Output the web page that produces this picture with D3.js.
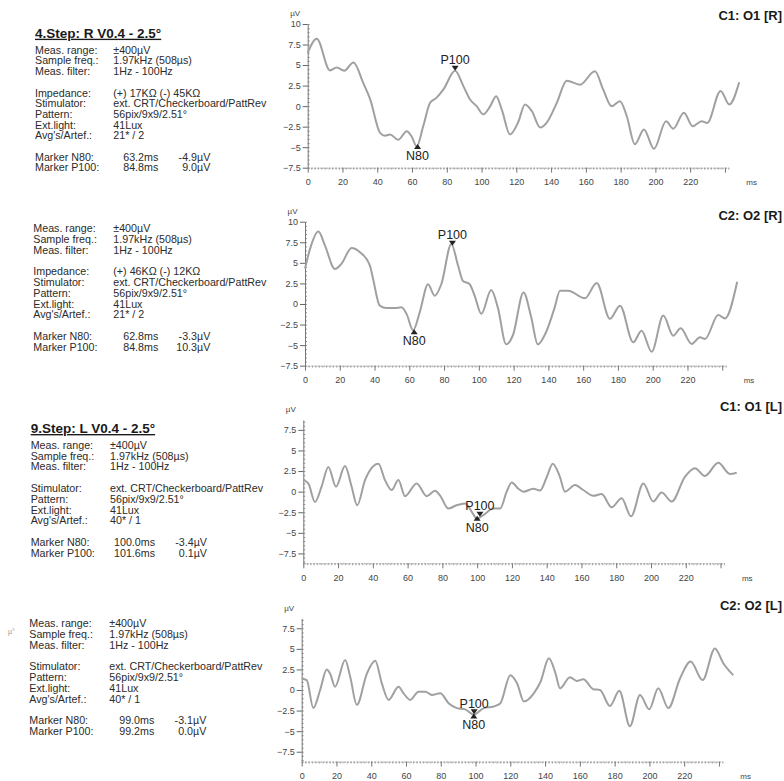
<!DOCTYPE html>
<html>
<head>
<meta charset="utf-8">
<script src="https://cdn.jsdelivr.net/npm/d3@7"></script>
<style>
  body { margin: 0; background: #fff; }
  svg { font-family: "Liberation Sans", Arial, sans-serif; }
</style>
</head>
<body>
<div id="chart"></div>
<script>
// ---- data ----
var channelTitles = ["C1: O1 [R]", "C2: O2 [R]", "C1: O1 [L]", "C2: O2 [L]"];
var stepTitles = ["4.Step: R V0.4 - 2.5°", "", "9.Step: L V0.4 - 2.5°", ""];

var timesO1R = [0, 5.2, 12.8, 16.7, 21, 26.3, 32, 36, 41.6, 44.5, 47.4, 52, 57, 59.8, 62.7, 66.5, 70.4, 74, 78, 84.8, 89.6, 93.4, 97.2, 101, 105, 108.4, 111.6, 116.4, 121, 125, 128.9, 133.7, 137.5, 143.3, 149, 156.6, 165.2, 170, 174.8, 179.6, 183.5, 188.2, 193.4, 199.2, 206.1, 210.3, 216.4, 221.4, 226.6, 229.8, 237.5, 242.5, 248.2];
var valuesO1R = [6.5, 8.2, 4.35, 4.7, 4.3, 5.3, 2.8, 0.8, -3.25, -3.6, -3.45, -4.1, -3.05, -3.7, -4.9, -2.4, 0.4, 1.0, 2.0, 4.3, 2.4, 0.8, 0, -1.0, 0, 1.2, -0.4, -3.45, -2.0, 0.2, -0.6, -2.6, -2.0, 0.4, 3.1, 2.6, 4.25, 2.0, 0, 0.6, -1.2, -4.65, -2.85, -5.2, -1.85, -2.75, -0.8, -2.45, -1.85, -2.05, 1.85, 0.2, 2.9];

var timesO2R = [0, 2.9, 7.7, 11.5, 17.2, 21, 26.8, 31.6, 37.3, 39.2, 43, 46.9, 51.7, 55.5, 58.4, 62.2, 66, 70.8, 74.6, 78.4, 84.2, 88, 90.9, 94.7, 97.6, 101.4, 107.1, 111, 115.7, 119.6, 125.7, 130, 133.9, 138.7, 143.5, 146.7, 151.4, 161, 167.8, 175.4, 181.2, 188.8, 193.6, 199.4, 206.1, 211.8, 216.1, 222.4, 227.2, 230.1, 237.7, 241.6, 248.6];
var valuesO2R = [4.3, 6.7, 8.8, 7.1, 4.25, 4.9, 6.8, 6.3, 4.7, 3.0, -0.2, -0.5, -0.5, -0.4, -1.2, -3.2, -1.0, 2.4, 1.0, 2.4, 7.3, 4.7, 2.8, 2.4, 1.0, -1.2, 1.7, -0.5, -4.9, -3.8, 1.4, -1.5, -4.9, -3.4, -0.5, 1.6, 1.6, 0.7, 2.55, -1.8, -0.2, -4.65, -3.25, -5.8, -1.4, -3.85, -2.95, -4.85, -4.05, -4.25, -1.35, -1.75, 2.7];

var timesO1L = [0, 2.9, 6.7, 10.5, 14.4, 18.8, 24, 27.8, 31, 35.5, 43.2, 47, 50.8, 54.7, 58.5, 65.2, 71, 75.8, 78.6, 83.4, 88.2, 93, 97.8, 99.7, 103.6, 109.3, 113.2, 117, 119.9, 123.7, 126.6, 132.3, 136.2, 140, 143.5, 147.6, 150.5, 156.3, 161, 166.8, 171.6, 177.4, 183.1, 188.5, 195.6, 201.3, 206.1, 211.9, 219.5, 225.3, 231, 238.7, 245.4, 249.3];
var valuesO1L = [1.4, 1.0, -1.25, 0.6, 3.0, 0.6, 3.1, 0.6, -1.65, 1.4, 3.4, 1.4, 0.2, 1.4, -0.55, 1.0, -0.55, 0.1, -0.45, -2.05, -1.65, -1.45, -2.75, -3.3, -2.85, -2.05, -2.05, 0, 1.1, 0.35, 0, 0.35, 0.15, 1.75, 3.4, 1.8, 0, 0.8, 0.2, -0.5, -0.3, -1.9, -0.8, -3.0, 1.0, -1.2, -0.1, -1.2, 1.8, 2.85, 1.9, 3.5, 2.15, 2.3];

var timesO2L = [0, 2.9, 6.7, 10.6, 14.4, 16.3, 19.2, 25, 27.9, 31.7, 37.5, 42.3, 46.1, 50, 55.7, 58.6, 62.4, 67.2, 71.1, 74.9, 79.7, 84.5, 89.3, 94.1, 99, 104.7, 110.5, 114.3, 120, 123.9, 127.8, 133.5, 137.4, 142.2, 146, 148.6, 154.3, 158.2, 162, 167.7, 171.6, 177.3, 182.7, 188.8, 194.6, 199.9, 205.1, 210.9, 217.6, 223.7, 230.6, 237.7, 242.5, 248.2];
var valuesO2L = [1.4, 1.2, -2.2, 0, 2.5, 2.0, 0.4, 3.65, 1.6, -1.8, 2.0, 3.55, 0.8, -1.2, 0.4, -0.4, -1.2, -0.2, -0.2, -0.6, -0.4, -1.6, -2.2, -2.35, -3.0, -2.2, -2.0, -1.6, 1.8, 0.8, -1.4, -0.4, 1.0, 3.85, 2.0, 0.2, 1.55, 1.1, 1.3, 0.1, 0, -1.95, -0.1, -4.4, -0.6, -2.35, 0.2, -2.2, 1.4, 3.45, 1.2, 5.05, 3.25, 1.8];

var traceTimes = [timesO1R, timesO2R, timesO1L, timesO2L];
var traceValues = [valuesO1R, valuesO2R, valuesO1L, valuesO2L];

var yTicksR = [-7.5, -5, -2.5, 0, 2.5, 5, 7.5, 10];
var yTicksL = [-7.5, -5, -2.5, 0, 2.5, 5, 7.5];
var xTicks = [0, 20, 40, 60, 80, 100, 120, 140, 160, 180, 200, 220, 240];

// marker positions (ms) and where the triangles sit on the trace (µV)
var p100Time = [84.8, 84.8, 101.6, 99.2];
var p100Level = [4.3, 7.07, -3.05, -2.94];
var n80Time = [63.2, 62.8, 100.0, 99.0];
var n80Level = [-4.6, -3.06, -2.92, -2.86];

// info text
var measLabels = ["Meas. range:", "Sample freq.:", "Meas. filter:"];
var measValues = ["±400µV", "1.97kHz (508µs)", "1Hz - 100Hz"];
var impedanceValues = ["(+) 17KΩ (-) 45KΩ", "(+) 46KΩ (-) 12KΩ", null, null];
var stimLabels = ["Stimulator:", "Pattern:", "Ext.light:", "Avg's/Artef.:"];
var stimValues = ["ext. CRT/Checkerboard/PattRev", "56pix/9x9/2.51°", "41Lux"];
var avgValues = ["21* / 2", "21* / 2", "40* / 1", "40* / 1"];
var n80ms = ["63.2ms", "62.8ms", "100.0ms", "99.0ms"];
var n80uV = ["-4.9µV", "-3.3µV", "-3.4µV", "-3.1µV"];
var p100ms = ["84.8ms", "84.8ms", "101.6ms", "99.2ms"];
var p100uV = ["9.0µV", "10.3µV", "0.1µV", "0.0µV"];

// ---- layout ----
var pxPerMs = 34.77 / 20;
var layout = [
  { x0: 307.7, top: 24, bottom: 167.7, domain: [-7.5, 10], ticks: yTicksR, titleY: 15, textTop: 50, step: 10.7, labelX: 35, valueX: 113.3, headY: 33 },
  { x0: 305, top: 221.7, bottom: 365.7, domain: [-7.5, 10], ticks: yTicksR, titleY: 215, textTop: 228.3, step: 10.8, labelX: 33.3, valueX: 113.3 },
  { x0: 303.3, top: 420, bottom: 563.3, domain: [-8.7, 8.7], ticks: yTicksL, titleY: 406.7, textTop: 445, step: 10.8, labelX: 30.7, valueX: 110, headY: 428.3 },
  { x0: 301.7, top: 618.4, bottom: 761.6, domain: [-8.7, 8.7], ticks: yTicksL, titleY: 605, textTop: 623.3, step: 10.8, labelX: 29.3, valueX: 109.3 }
];

var svg = d3.select("#chart")
    .append("svg")
    .attr("width", 784)
    .attr("height", 781);

var textColor = "#2b2b2b";

layout.forEach(function (p, i) {
    var g = svg.append("g");

    var x = d3.scaleLinear()
        .domain([0, 242])
        .range([p.x0, p.x0 + 242 * pxPerMs]);
    var y = d3.scaleLinear()
        .domain(p.domain)
        .range([p.bottom, p.top]);

    // minor y ticks (the dotted ladder)
    var minorY = d3.range(Math.ceil(p.domain[0] * 2), Math.floor(p.domain[1] * 2) + 1).map(function (d) { return d / 2; });
    g.append("g")
        .attr("transform", "translate(" + p.x0 + ",0)")
        .call(d3.axisRight(y).tickValues(minorY).tickSize(2).tickFormat("").tickSizeOuter(0))
        .call(function (a) { a.select(".domain").remove(); a.selectAll("line").attr("stroke", "#999"); });

    // y axis
    var yAxis = g.append("g")
        .attr("transform", "translate(" + p.x0 + ",0)")
        .call(d3.axisLeft(y).tickValues(p.ticks).tickSize(5).tickPadding(2).tickSizeOuter(0)
            .tickFormat(function (d) { return d3.format("")(d); }));
    yAxis.select(".domain").attr("stroke", "#777");
    yAxis.selectAll("line").attr("stroke", "#666");
    yAxis.selectAll("text").attr("fill", "#444").style("font-size", "9px");

    // minor x ticks
    g.append("g")
        .attr("transform", "translate(0," + p.bottom + ")")
        .call(d3.axisBottom(x).tickValues(d3.range(0, 243, 2)).tickSize(2).tickFormat("").tickSizeOuter(0))
        .call(function (a) { a.select(".domain").remove(); a.selectAll("line").attr("stroke", "#aaa"); });

    // x axis
    var xAxis = g.append("g")
        .attr("transform", "translate(0," + p.bottom + ")")
        .call(d3.axisBottom(x).tickValues(xTicks).tickSize(5).tickPadding(6).tickSizeOuter(0)
            .tickFormat(function (d) { return d === 240 ? "" : d; }));
    xAxis.select(".domain").attr("stroke", "#999").attr("stroke-dasharray", "2,1");
    xAxis.selectAll("line").attr("stroke", "#777");
    xAxis.selectAll("text").attr("fill", "#444").style("font-size", "9px");

    // unit labels
    g.append("text")
        .attr("x", p.x0 - 12.5)
        .attr("y", p.top - 10.5)
        .attr("dy", "0.35em")
        .attr("text-anchor", "middle")
        .style("font-size", "8px")
        .attr("fill", "#444")
        .text("µV");
    g.append("text")
        .attr("x", p.x0 + 444)
        .attr("y", p.bottom + 14.6)
        .attr("dy", "0.35em")
        .attr("text-anchor", "middle")
        .style("font-size", "8px")
        .attr("fill", "#444")
        .text("ms");

    // the trace
    var pts = traceTimes[i].map(function (t, k) { return [t, traceValues[i][k]]; });
    var line = d3.line()
        .x(function (d) { return x(d[0]); })
        .y(function (d) { return y(d[1]); })
        .curve(d3.curveMonotoneX);
    g.append("path")
        .attr("d", line(pts))
        .attr("fill", "none")
        .attr("stroke", "#a0a0a0")
        .attr("stroke-width", 2);

    // markers: P100 points down onto the trace, N80 points up
    var px = x(p100Time[i]), py = y(p100Level[i]);
    g.append("path")
        .attr("d", "M" + (px - 3.5) + "," + (py - 5) + "L" + (px + 3.5) + "," + (py - 5) + "L" + px + "," + py + "Z")
        .attr("fill", "#222");
    g.append("text")
        .attr("x", px)
        .attr("y", py - 11)
        .attr("dy", "0.35em")
        .attr("text-anchor", "middle")
        .style("font-size", "12.5px")
        .attr("fill", "#222")
        .text("P100");
    var nx = x(n80Time[i]), ny = y(n80Level[i]);
    g.append("path")
        .attr("d", "M" + (nx - 3.5) + "," + (ny + 5) + "L" + (nx + 3.5) + "," + (ny + 5) + "L" + nx + "," + ny + "Z")
        .attr("fill", "#222");
    g.append("text")
        .attr("x", nx)
        .attr("y", ny + 11.5)
        .attr("dy", "0.35em")
        .attr("text-anchor", "middle")
        .style("font-size", "12.5px")
        .attr("fill", "#222")
        .text("N80");

    // channel title
    g.append("text")
        .attr("x", 782)
        .attr("y", p.titleY)
        .attr("dy", "0.35em")
        .attr("text-anchor", "end")
        .style("font-size", "13px")
        .style("font-weight", "bold")
        .attr("fill", "#1a1a1a")
        .text(channelTitles[i]);

    // step heading
    if (stepTitles[i] !== "") {
        g.append("text")
            .attr("x", p.labelX)
            .attr("y", p.headY)
            .attr("dy", "0.35em")
            .style("font-size", "13.5px")
            .style("font-weight", "bold")
            .style("text-decoration", "underline")
            .attr("fill", "#1a1a1a")
            .text(stepTitles[i]);
    }

    // info rows: [row index, label, value]
    var rows = [];
    measLabels.forEach(function (l, k) { rows.push([k, l, measValues[k]]); });
    var r = 4;
    if (impedanceValues[i]) { rows.push([r, "Impedance:", impedanceValues[i]]); r++; }
    stimLabels.forEach(function (l, k) { rows.push([r + k, l, k < 3 ? stimValues[k] : avgValues[i]]); });
    r += 5;
    rows.push([r, "Marker N80:", ""]);
    rows.push([r + 1, "Marker P100:", ""]);

    var info = g.append("g").style("font-size", "10.7px").attr("fill", textColor);
    rows.forEach(function (row) {
        var ty = p.textTop + row[0] * p.step;
        info.append("text").attr("x", p.labelX).attr("y", ty).attr("dy", "0.35em").text(row[1]);
        if (row[2]) info.append("text").attr("x", p.valueX).attr("y", ty).attr("dy", "0.35em").text(row[2]);
    });
    [[r, n80ms[i], n80uV[i]], [r + 1, p100ms[i], p100uV[i]]].forEach(function (m) {
        var ty = p.textTop + m[0] * p.step;
        info.append("text").attr("x", p.valueX + 45).attr("y", ty).attr("dy", "0.35em").attr("text-anchor", "end").text(m[1]);
        info.append("text").attr("x", p.valueX + 97).attr("y", ty).attr("dy", "0.35em").attr("text-anchor", "end").text(m[2]);
    });
});

// small stray glyph left of the last block
svg.append("text")
    .attr("x", 8)
    .attr("y", 634)
    .style("font-size", "7px")
    .attr("fill", "#999")
    .text("µ°");
</script>
</body>
</html>
